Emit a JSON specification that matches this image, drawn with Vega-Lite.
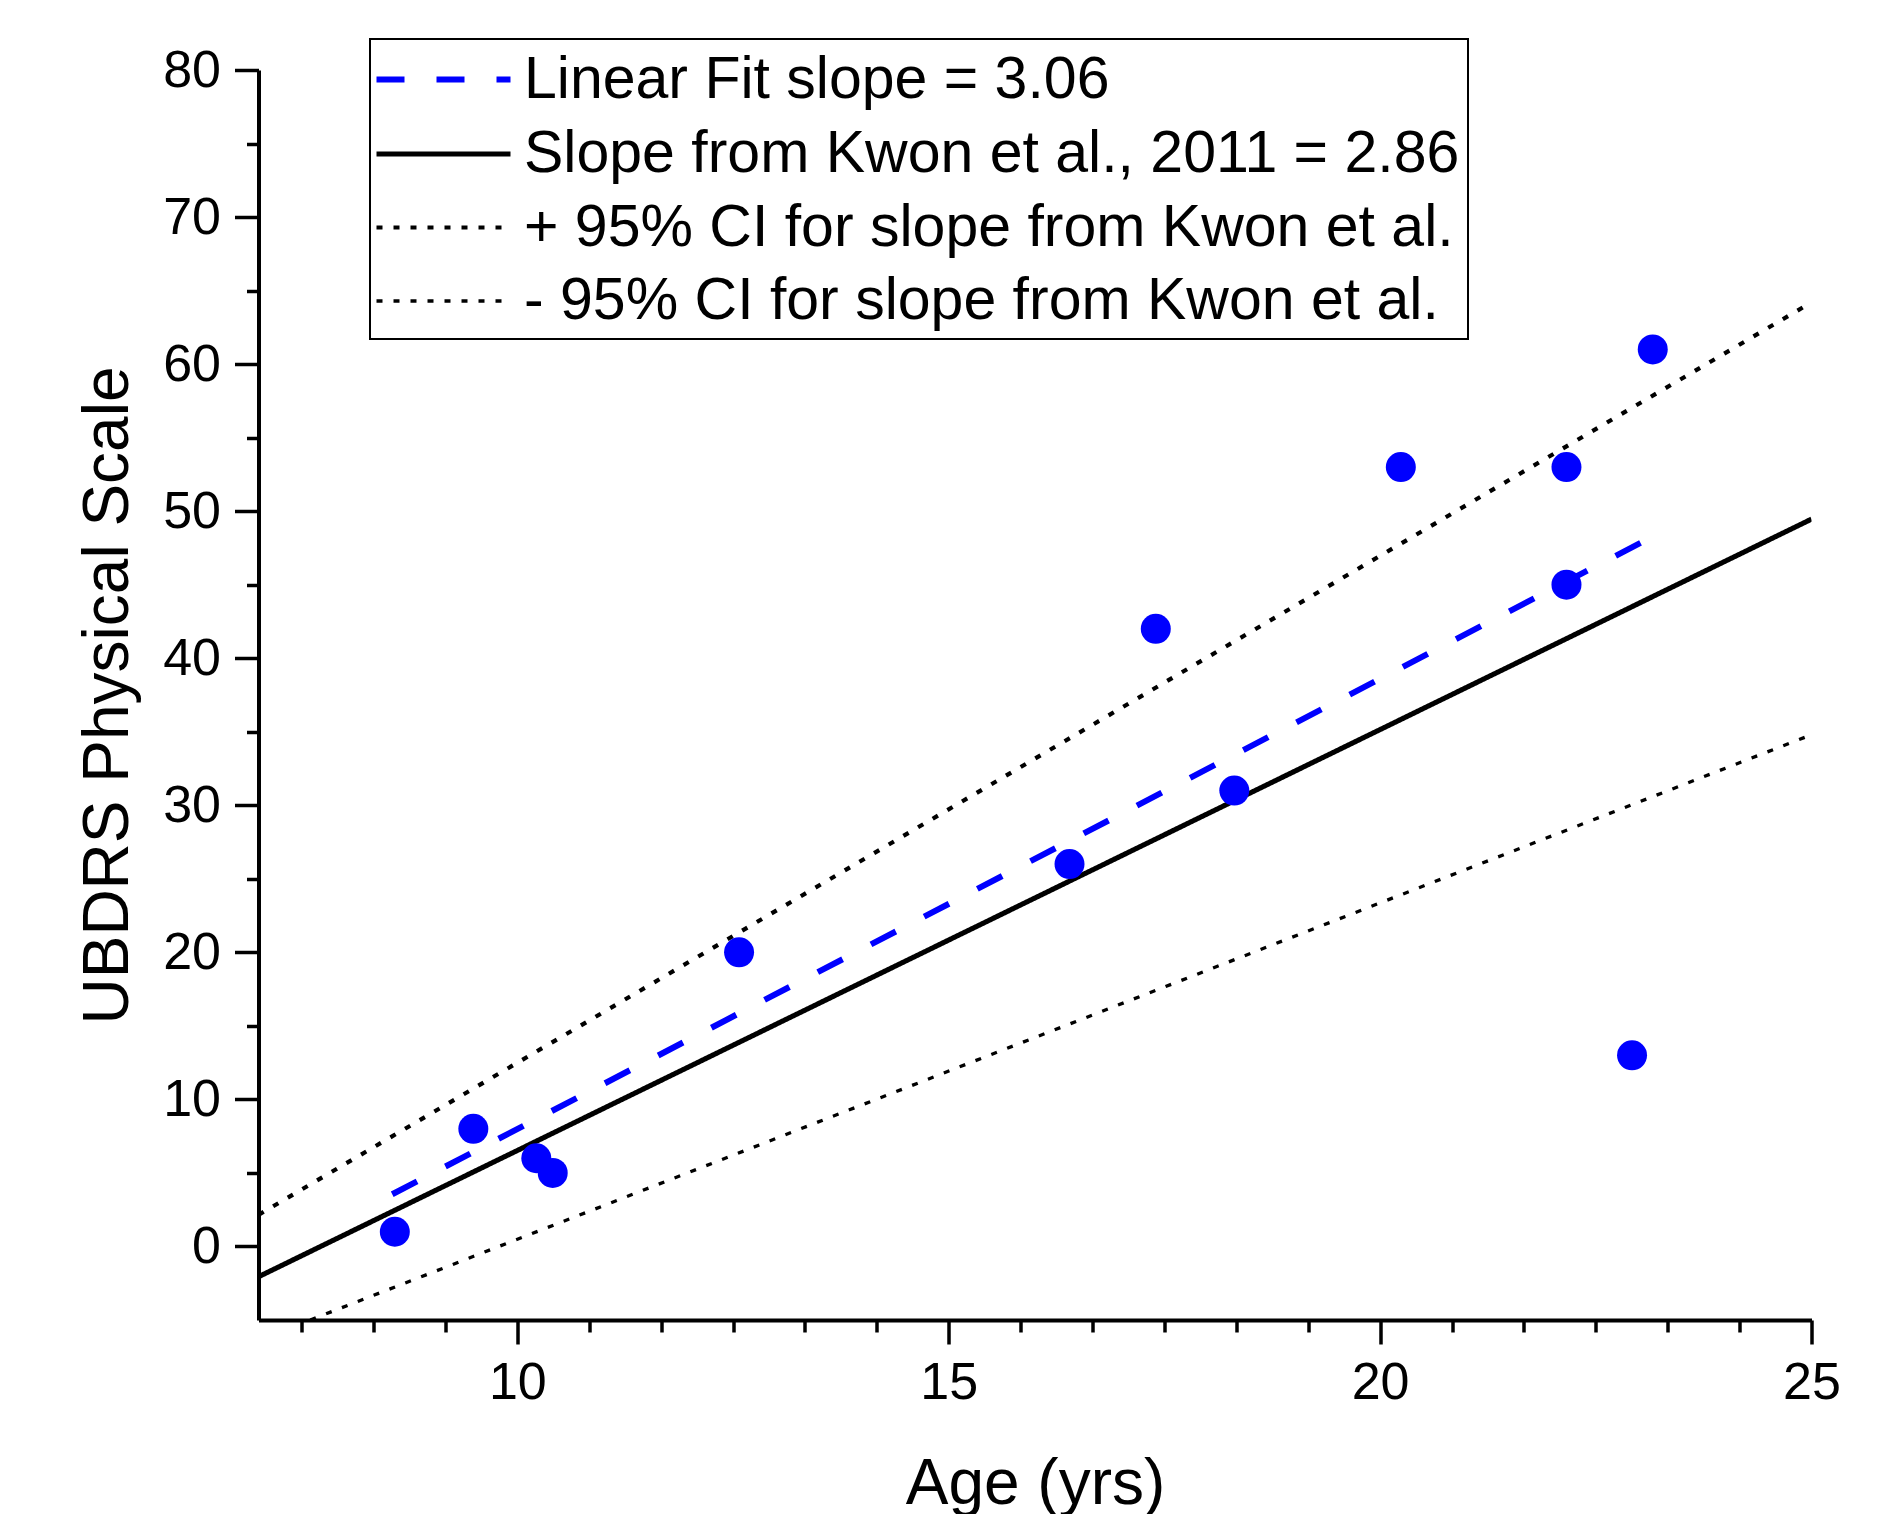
{
  "$schema": "https://vega.github.io/schema/vega-lite/v6.json",
  "width": 1553,
  "height": 1250,
  "autosize": {"type": "none"},
  "padding": {"left": 258.5, "top": 70, "right": 92.5, "bottom": 194},
  "background": "white",
  "config": {
    "view": {"stroke": null},
    "font": "Liberation Sans",
    "legend": {
      "orient": "none",
      "legendX": 111.5,
      "legendY": -31,
      "strokeColor": "black",
      "strokeWidth": 2,
      "fillColor": "white",
      "padding": 8,
      "symbolType": "M-2.3,0L2.3,0",
      "symbolSize": 3394,
      "symbolOffset": 33,
      "labelFontSize": 59,
      "labelColor": "black",
      "labelLimit": 2000,
      "labelOffset": 48,
      "rowPadding": 12,
      "titleFontSize": 0
    }
  },
  "datasets": {
    "points": [
      {"age": 8.58, "score": 1},
      {"age": 9.49, "score": 8},
      {"age": 10.22, "score": 6},
      {"age": 10.41, "score": 5},
      {"age": 12.57, "score": 20},
      {"age": 16.40, "score": 26},
      {"age": 17.40, "score": 42},
      {"age": 18.31, "score": 31},
      {"age": 20.24, "score": 53},
      {"age": 22.16, "score": 53},
      {"age": 22.16, "score": 45},
      {"age": 22.92, "score": 13},
      {"age": 23.16, "score": 61}
    ],
    "lines": [
      {"series": "Linear Fit slope = 3.06", "age": 8.55, "score": 3.55},
      {"series": "Linear Fit slope = 3.06", "age": 23.2, "score": 48.4},
      {"series": "Slope from Kwon et al., 2011 = 2.86", "age": 7, "score": -2.06},
      {"series": "Slope from Kwon et al., 2011 = 2.86", "age": 25, "score": 49.46},
      {"series": "+ 95% CI for slope from Kwon et al.", "age": 7, "score": 2.15},
      {"series": "+ 95% CI for slope from Kwon et al.", "age": 25, "score": 64.2},
      {"series": "- 95% CI for slope from Kwon et al.", "age": 7.6, "score": -5.0},
      {"series": "- 95% CI for slope from Kwon et al.", "age": 25, "score": 34.8}
    ]
  },
  "layer": [
    {
      "data": {"name": "lines"},
      "mark": {"type": "line", "clip": true},
      "encoding": {
        "x": {
          "field": "age", "type": "quantitative",
          "scale": {"domain": [7, 25], "nice": false, "zero": false},
          "axis": {
            "values": [7.5, 8.3333, 9.1667, 10, 10.8333, 11.6667, 12.5, 13.3333, 14.1667, 15, 15.8333, 16.6667, 17.5, 18.3333, 19.1667, 20, 20.8333, 21.6667, 22.5, 23.3333, 24.1667, 25],
            "labelExpr": "abs(datum.value/5 - round(datum.value/5)) < 0.001 ? format(datum.value, 'd') : ''",
            "tickSize": {"condition": {"test": "abs(datum.value/5 - round(datum.value/5)) < 0.001", "value": 24}, "value": 12},
            "tickWidth": 3.5,
            "tickColor": "black",
            "domainColor": "black",
            "domainWidth": 4,
            "grid": false,
            "labelFontSize": 52,
            "labelColor": "black",
            "labelPadding": 13,
            "labelFlush": false,
            "labelOverlap": false,
            "title": "Age (yrs)",
            "titleFontSize": 64,
            "titleFontWeight": "normal",
            "titleColor": "black",
            "titlePadding": 44
          }
        },
        "y": {
          "field": "score", "type": "quantitative",
          "scale": {"domain": [-5, 80], "nice": false, "zero": false},
          "axis": {
            "values": [0, 5, 10, 15, 20, 25, 30, 35, 40, 45, 50, 55, 60, 65, 70, 75, 80],
            "labelExpr": "datum.value % 10 === 0 ? format(datum.value, 'd') : ''",
            "tickSize": {"condition": {"test": "datum.value % 10 === 0", "value": 24}, "value": 12},
            "tickWidth": 3.5,
            "tickColor": "black",
            "domainColor": "black",
            "domainWidth": 4,
            "grid": false,
            "labelFontSize": 52,
            "labelColor": "black",
            "labelPadding": 14,
            "labelFlush": false,
            "labelOverlap": false,
            "title": "UBDRS Physical Scale",
            "titleFontSize": 64,
            "titleFontWeight": "normal",
            "titleColor": "black",
            "titlePadding": 22
          }
        },
        "color": {
          "field": "series", "type": "nominal", "title": null,
          "scale": {
            "domain": ["Linear Fit slope = 3.06", "Slope from Kwon et al., 2011 = 2.86", "+ 95% CI for slope from Kwon et al.", "- 95% CI for slope from Kwon et al."],
            "range": ["#0000FF", "black", "black", "black"]
          }
        },
        "strokeDash": {
          "field": "series", "type": "nominal", "title": null,
          "scale": {
            "domain": ["Linear Fit slope = 3.06", "Slope from Kwon et al., 2011 = 2.86", "+ 95% CI for slope from Kwon et al.", "- 95% CI for slope from Kwon et al."],
            "range": [[28, 32], [1, 0], [6, 11], [6, 11]]
          }
        },
        "strokeWidth": {
          "field": "series", "type": "nominal", "title": null,
          "scale": {
            "domain": ["Linear Fit slope = 3.06", "Slope from Kwon et al., 2011 = 2.86", "+ 95% CI for slope from Kwon et al.", "- 95% CI for slope from Kwon et al."],
            "range": [6, 3.3, 5, 5]
          }
        }
      }
    },
    {
      "data": {"name": "points"},
      "mark": {"type": "point", "shape": "circle", "filled": true, "size": 900, "color": "#0000FF", "opacity": 1},
      "encoding": {
        "x": {"field": "age", "type": "quantitative"},
        "y": {"field": "score", "type": "quantitative"}
      }
    }
  ]
}
